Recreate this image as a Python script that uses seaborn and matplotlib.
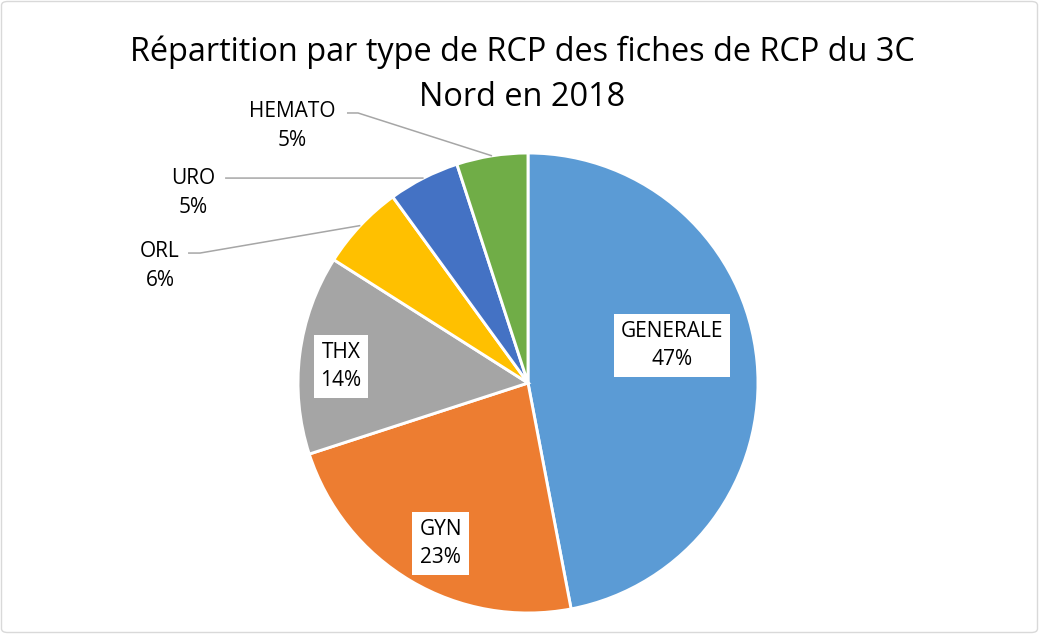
import numpy as np
import matplotlib
matplotlib.use("Agg")
import matplotlib.pyplot as plt
import seaborn as sns
from matplotlib.patches import FancyBboxPatch

# Chart data
categories = ["GENERALE", "GYN", "THX", "ORL", "URO", "HEMATO"]
shares = [47, 23, 14, 6, 5, 5]
colors = ["#5B9BD5", "#ED7D31", "#A5A5A5", "#FFC000", "#4472C4", "#70AD47"]
title_lines = ["Répartition par type de RCP des fiches de RCP du 3C", "Nord en 2018"]

# label layout (pie radius = 1): inside boxes / outside with leader lines
inside_pos = {"GENERALE": (0.626, 0.163), "GYN": (-0.38, -0.698), "THX": (-0.813, 0.07)}
outside_pos = {"HEMATO": (-1.026, 1.117), "URO": (-1.457, 0.826), "ORL": (-1.60, 0.509)}
stub_start = {"HEMATO": (-0.787, 1.174), "URO": (-1.317, 0.891), "ORL": (-1.478, 0.565)}
stub_end = {"HEMATO": (-0.739, 1.174), "URO": (-1.30, 0.891), "ORL": (-1.426, 0.565)}

sns.set_theme(style="white")
plt.rcParams["font.family"] = ["Open Sans", "DejaVu Sans"]

W, H = 1039, 634
cx, cy, R = 528, 383, 230
fig = plt.figure(figsize=(W / 100, H / 100), dpi=100)
ax = fig.add_axes([0, 0, 1, 1])

wedges, _ = ax.pie(shares, colors=colors, startangle=90, counterclock=False,
                   radius=1, wedgeprops=dict(edgecolor="white", linewidth=2.1))

ax.set_xlim(-cx / R, (W - cx) / R)
ax.set_ylim(-(H - cy) / R, cy / R)
ax.set_aspect("equal")
ax.axis("off")

fs = 15
for w, name, val in zip(wedges, categories, shares):
    txt = f"{name}\n{val}%"
    if name in inside_pos:
        x, y = inside_pos[name]
        ax.text(x, y, txt, ha="center", va="center", fontsize=fs, linespacing=1.45,
                color="black", bbox=dict(boxstyle="square,pad=0.33", fc="white", ec="none"))
    else:
        x, y = outside_pos[name]
        ax.text(x, y, txt, ha="center", va="center", fontsize=fs, linespacing=1.45,
                color="black")
        mid = np.deg2rad((w.theta1 + w.theta2) / 2)
        ex, ey = np.cos(mid), np.sin(mid)
        sx, sy = stub_start[name]
        bx, by = stub_end[name]
        ax.plot([sx, bx, ex], [sy, by, ey], color="#A6A6A6", lw=1.1, solid_capstyle="butt")

# title, one text per line
for line, ypx in zip(title_lines, [52, 97]):
    fig.text(522 / W, 1 - ypx / H, line, ha="center", va="center", fontsize=23.4,
             color="black")

fig.patches.append(FancyBboxPatch((1.5 / W, 1.5 / H), (W - 3) / W, (H - 3) / H,
                                  boxstyle="round,pad=0,rounding_size=0.006",
                                  transform=fig.transFigure, fc="none", ec="#D9D9D9", lw=1))

fig.savefig("out.png", dpi=100)
